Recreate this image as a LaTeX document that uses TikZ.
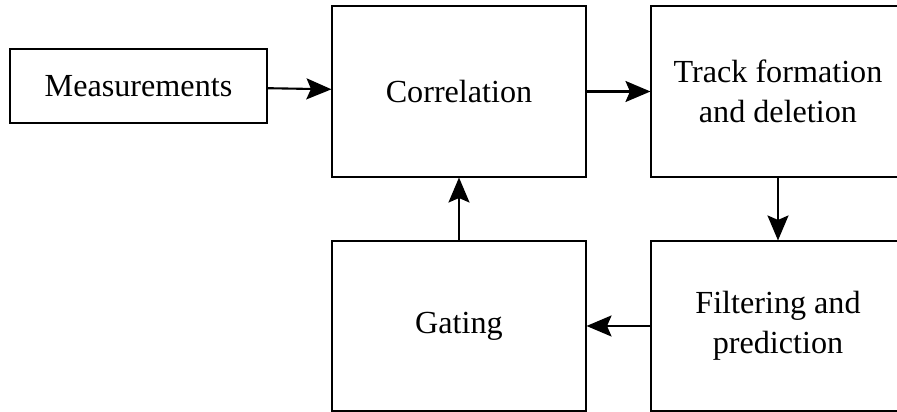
\documentclass[tikz,border=0pt]{standalone}
\usepackage{fontspec}
\setmainfont{Liberation Serif}
\usetikzlibrary{arrows.meta}
\tikzset{
	blk/.style={draw, line width=0.6pt, inner sep=0pt, font=\fontsize{18.3}{23}\selectfont, align=center},
	flow/.style={line width=1.2pt, -{Stealth[length=5mm, width=4.2mm, inset=0.9mm]}}
}

\begin{document}
\begin{tikzpicture}
			%%%%% START %%%%%
			
			\useasboundingbox (0, 0) rectangle (17.94, 8.24);
			
			\node[blk, minimum width=5.14cm, minimum height=1.48cm] (meas) at (2.77, 6.52) {Measurements};
			\node[blk, minimum width=5.08cm, minimum height=3.42cm] (corr) at (9.18, 6.41) {Correlation};
			\node[blk, minimum width=5.08cm, minimum height=3.42cm] (track) at (15.56, 6.41) {Track formation\\and deletion};
			
			\node[blk, minimum width=5.08cm, minimum height=3.40cm] (gate) at (9.18, 1.72) {Gating};
			\node[blk, minimum width=5.08cm, minimum height=3.40cm] (filt) at (15.56, 1.72) {Filtering and\\prediction};
			
			\draw[flow] (meas) -- (corr);
			\draw[flow] (corr) -- (track);
			\draw[flow] (track) -- (filt);
			\draw[flow] (filt) -- (gate);
			\draw[flow] (gate) -- (corr);
			
			%%%%% END %%%%%
\end{tikzpicture}
\end{document}
